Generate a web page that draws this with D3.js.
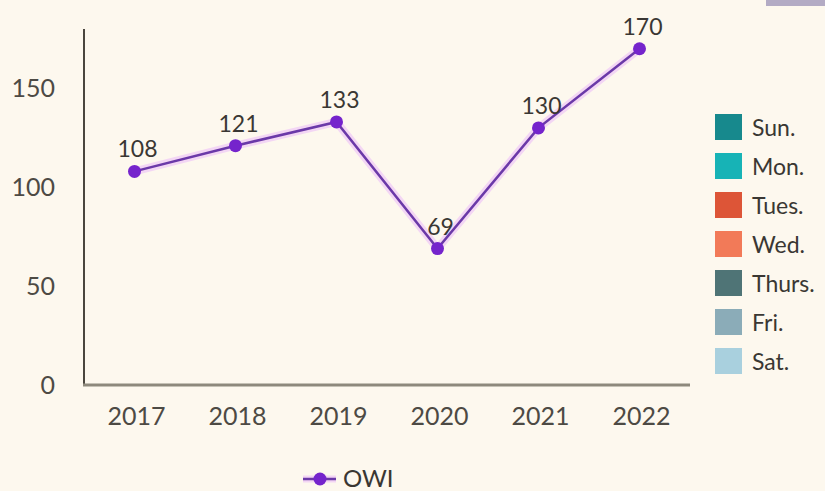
<!DOCTYPE html>
<html><head><meta charset="utf-8">
<script src="https://cdn.jsdelivr.net/npm/d3@7"></script>
<style>body{margin:0;background:#fdf8ee;}svg{display:block;font-family:Lato, sans-serif;}</style>
</head><body>
<svg id="c" width="825" height="491"></svg>
<script>
const years = ["2017","2018","2019","2020","2021","2022"];
const owi = [108,121,133,69,130,170];
const yTicks = [0,50,100,150];
const legendDays = ["Sun.","Mon.","Tues.","Wed.","Thurs.","Fri.","Sat."];
const legendColors = ["#17898d","#17b3b6","#dd5537","#f27a58","#4f7476","#8bacb8","#a9d0de"];
const seriesName = "OWI";

const svg = d3.select("#c");
svg.append("rect").attr("width",825).attr("height",491).attr("fill","#fdf8ee");
svg.append("rect").attr("x",766).attr("y",0).attr("width",59).attr("height",6).attr("fill","#b3abc4");

const x = d3.scaleBand().domain(years).range([84,690]);
const y = d3.scaleLinear().domain([0,180]).range([385,29]);

// axes
svg.append("line").attr("x1",84).attr("x2",84).attr("y1",y(180)).attr("y2",y(0)).attr("stroke","#4a463e").attr("stroke-width",2);
svg.append("line").attr("x1",83).attr("x2",690).attr("y1",y(0)).attr("y2",y(0)).attr("stroke","#8e897c").attr("stroke-width",3);

svg.selectAll(".yt").data(yTicks).enter().append("text")
  .attr("x",55).attr("y",d=>y(d)).attr("dy","0.35em").attr("text-anchor","end")
  .attr("font-size",25).attr("fill","#4d4a44").text(d=>d);

svg.selectAll(".xt").data(years).enter().append("text")
  .attr("x",d=>x(d)+x.bandwidth()/2+2).attr("y",425).attr("text-anchor","middle")
  .attr("font-size",25).attr("fill","#4d4a44").text(d=>d);

const pts = years.map((yr,i)=>[x(yr)+x.bandwidth()/2, y(owi[i])]);
const line = d3.line();
svg.append("path").attr("d",line(pts)).attr("fill","none").attr("stroke","#f3d6f4").attr("stroke-width",8).attr("stroke-linejoin","round");
svg.append("path").attr("d",line(pts)).attr("fill","none").attr("stroke","#6b39a8").attr("stroke-width",2.5);
svg.selectAll(".pt").data(pts).enter().append("circle")
  .attr("cx",d=>d[0]).attr("cy",d=>d[1]).attr("r",6.5).attr("fill","#7524cc");

svg.selectAll(".lbl").data(years).enter().append("text")
  .attr("x",d=>x(d)+x.bandwidth()/2+3).attr("y",(d,i)=>y(owi[i])-14).attr("text-anchor","middle")
  .attr("font-size",23).attr("fill","#3a3733").text((d,i)=>owi[i]);

// right legend
const lg = svg.append("g");
legendDays.forEach((d,i)=>{
  const yy = 114 + i*39;
  lg.append("rect").attr("x",715).attr("y",yy).attr("width",27).attr("height",26).attr("fill",legendColors[i]);
  lg.append("text").attr("x",752).attr("y",yy+14).attr("dy","0.35em").attr("font-size",23).attr("fill","#3a3733").text(d);
});

// bottom legend
svg.append("line").attr("x1",303).attr("x2",336).attr("y1",479).attr("y2",479).attr("stroke","#f3d6f4").attr("stroke-width",7);
svg.append("line").attr("x1",303).attr("x2",336).attr("y1",479).attr("y2",479).attr("stroke","#6b39a8").attr("stroke-width",2.5);
svg.append("circle").attr("cx",320).attr("cy",479).attr("r",6.5).attr("fill","#7524cc");
svg.append("text").attr("x",343).attr("y",479).attr("dy","0.35em").attr("font-size",24).attr("fill","#3a3733").text(seriesName);
</script>
</body></html>
